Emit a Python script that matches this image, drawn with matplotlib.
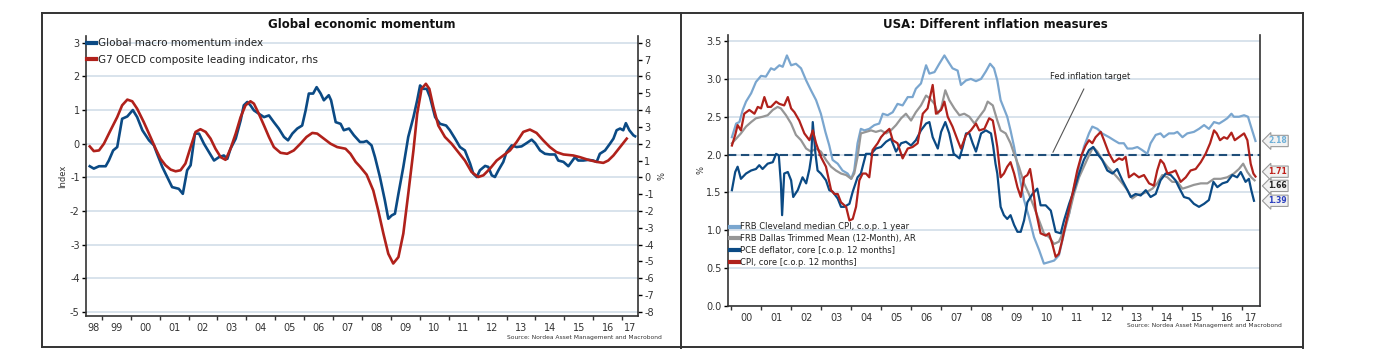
import matplotlib
matplotlib.use("Agg")
import matplotlib.pyplot as plt
from matplotlib.lines import Line2D

plt.rcParams['font.family'] = 'DejaVu Sans'
plt.rcParams['axes.unicode_minus'] = False

# ---------------- left panel: Global economic momentum ----------------
mom_dates = [1998.58, 1998.72, 1998.90, 1999.13, 1999.24, 1999.39, 1999.53, 1999.70, 1999.88, 2000.07,
             2000.22, 2000.40, 2000.63, 2000.80, 2000.91, 2001.09, 2001.26, 2001.43, 2001.66, 2001.80,
             2001.95, 2002.07, 2002.22, 2002.36, 2002.53, 2002.67, 2002.88, 2003.05, 2003.22, 2003.34,
             2003.45, 2003.63, 2003.80, 2003.91, 2004.03, 2004.14, 2004.26, 2004.43, 2004.61, 2004.78,
             2004.95, 2005.12, 2005.30, 2005.44, 2005.59, 2005.76, 2005.93, 2006.05, 2006.16, 2006.31,
             2006.43, 2006.57, 2006.68, 2006.85, 2006.93, 2007.09, 2007.26, 2007.37, 2007.55, 2007.72,
             2007.93, 2008.05, 2008.16, 2008.33, 2008.45, 2008.62, 2008.79, 2008.91, 2009.03, 2009.14,
             2009.26, 2009.43, 2009.60, 2009.78, 2009.91, 2010.01, 2010.12, 2010.24, 2010.35, 2010.53,
             2010.70, 2010.91, 2011.04, 2011.22, 2011.39, 2011.56, 2011.74, 2011.85, 2011.97, 2012.08,
             2012.26, 2012.37, 2012.49, 2012.60, 2012.72, 2012.89, 2013.00, 2013.18, 2013.35, 2013.52,
             2013.70, 2013.87, 2013.99, 2014.16, 2014.33, 2014.50, 2014.68, 2014.79, 2014.97, 2015.14,
             2015.25, 2015.37, 2015.48, 2015.66, 2015.83, 2016.00, 2016.12, 2016.23, 2016.41, 2016.58,
             2016.70, 2016.81, 2016.93, 2017.04, 2017.13, 2017.25, 2017.39, 2017.45]
mom_vals = [-0.67, -0.74, -0.67, -0.67, -0.50, -0.20, -0.10, 0.74, 0.81, 1.00,
            0.79, 0.40, 0.10, -0.05, -0.30, -0.69, -0.99, -1.29, -1.34, -1.49,
            -0.79, -0.64, 0.30, 0.30, 0.00, -0.20, -0.50, -0.40, -0.35, -0.45,
            -0.15, 0.15, 0.69, 1.14, 1.24, 1.14, 0.99, 0.89, 0.79, 0.84,
            0.64, 0.45, 0.20, 0.10, 0.30, 0.45, 0.54, 0.99, 1.49, 1.49,
            1.68, 1.49, 1.29, 1.44, 1.29, 0.64, 0.59, 0.40, 0.45, 0.25,
            0.05, 0.05, 0.08, -0.05, -0.40, -0.99, -1.68, -2.23, -2.13, -2.08,
            -1.49, -0.69, 0.20, 0.79, 1.29, 1.73, 1.63, 1.63, 1.39, 0.79,
            0.59, 0.54, 0.40, 0.15, -0.10, -0.20, -0.59, -0.89, -0.99, -0.79,
            -0.66, -0.69, -0.94, -0.99, -0.79, -0.54, -0.25, -0.05, -0.10, -0.08,
            0.02, 0.12, 0.02, -0.20, -0.30, -0.32, -0.32, -0.50, -0.54, -0.67,
            -0.54, -0.40, -0.50, -0.50, -0.48, -0.50, -0.54, -0.30, -0.20, 0.00,
            0.15, 0.40, 0.45, 0.40, 0.61, 0.40, 0.25, 0.22]

cli_dates = [1998.58, 1998.72, 1998.90, 1999.07, 1999.30, 1999.53, 1999.70, 1999.88, 2000.05, 2000.22,
             2000.45, 2000.68, 2000.86, 2001.03, 2001.20, 2001.38, 2001.55, 2001.72, 2001.89, 2002.07,
             2002.24, 2002.41, 2002.59, 2002.76, 2002.93, 2003.11, 2003.28, 2003.45, 2003.63, 2003.80,
             2003.97, 2004.14, 2004.26, 2004.43, 2004.61, 2004.78, 2004.95, 2005.18, 2005.41, 2005.64,
             2005.87, 2006.08, 2006.28, 2006.45, 2006.68, 2006.91, 2007.14, 2007.43, 2007.60, 2007.78,
             2007.93, 2008.16, 2008.39, 2008.56, 2008.74, 2008.91, 2009.08, 2009.26, 2009.43, 2009.60,
             2009.78, 2009.91, 2010.06, 2010.21, 2010.33, 2010.47, 2010.64, 2010.87, 2011.10, 2011.33,
             2011.56, 2011.79, 2012.02, 2012.20, 2012.43, 2012.66, 2012.89, 2013.12, 2013.35, 2013.58,
             2013.81, 2014.04, 2014.27, 2014.50, 2014.73, 2014.97, 2015.31, 2015.54, 2015.83, 2016.12,
             2016.35, 2016.52, 2016.70, 2016.93, 2017.16]
cli_vals = [1.84, 1.56, 1.60, 2.00, 2.80, 3.58, 4.28, 4.62, 4.52, 4.08,
            3.28, 2.40, 1.70, 1.10, 0.72, 0.46, 0.36, 0.42, 0.82, 1.80,
            2.70, 2.86, 2.70, 2.30, 1.70, 1.20, 1.04, 1.70, 2.60, 3.58,
            4.28, 4.52, 4.38, 3.78, 3.08, 2.40, 1.80, 1.46, 1.40, 1.60,
            2.00, 2.40, 2.64, 2.60, 2.30, 2.00, 1.80, 1.70, 1.40, 0.92,
            0.64, 0.16, -0.78, -1.96, -3.34, -4.54, -5.12, -4.74, -3.34, -0.98,
            1.60, 3.78, 5.26, 5.56, 5.26, 4.18, 3.08, 2.40, 2.00, 1.50,
            1.00, 0.32, 0.02, 0.12, 0.52, 1.00, 1.30, 1.60, 2.10, 2.70,
            2.84, 2.64, 2.20, 1.80, 1.50, 1.36, 1.30, 1.20, 1.04, 0.92,
            0.86, 1.00, 1.30, 1.80, 2.30]

left_years = list(range(1998, 2018))
left_yticks = list(range(-5, 4))
rhs_yticks = list(range(-8, 9))

# ---------------- right panel: USA inflation measures ----------------
clev_dates = [2000.03, 2000.17, 2000.28, 2000.39, 2000.50, 2000.67, 2000.83, 2001.00, 2001.16, 2001.33,
              2001.44, 2001.61, 2001.72, 2001.86, 2002.00, 2002.16, 2002.33, 2002.50, 2002.66, 2002.83,
              2002.99, 2003.14, 2003.27, 2003.38, 2003.55, 2003.71, 2003.88, 2004.00, 2004.10, 2004.21,
              2004.32, 2004.44, 2004.60, 2004.77, 2004.93, 2005.05, 2005.21, 2005.38, 2005.54, 2005.71,
              2005.88, 2006.04, 2006.15, 2006.32, 2006.49, 2006.60, 2006.77, 2006.93, 2007.10, 2007.24,
              2007.37, 2007.54, 2007.65, 2007.82, 2007.98, 2008.15, 2008.32, 2008.48, 2008.62, 2008.75,
              2008.86, 2008.97, 2009.08, 2009.19, 2009.30, 2009.42, 2009.58, 2009.75, 2009.91, 2010.08,
              2010.25, 2010.41, 2010.58, 2010.75, 2010.91, 2011.08, 2011.25, 2011.41, 2011.58, 2011.74,
              2011.91, 2012.02, 2012.19, 2012.35, 2012.58, 2012.74, 2012.91, 2013.07, 2013.19, 2013.35,
              2013.52, 2013.68, 2013.85, 2013.96, 2014.13, 2014.29, 2014.40, 2014.57, 2014.74, 2014.85,
              2015.02, 2015.18, 2015.40, 2015.57, 2015.74, 2015.90, 2016.07, 2016.24, 2016.40, 2016.51,
              2016.65, 2016.73, 2016.90, 2017.07, 2017.20, 2017.34, 2017.45]
clev_vals = [2.23, 2.41, 2.43, 2.59, 2.70, 2.81, 2.96, 3.04, 3.03, 3.14,
             3.12, 3.18, 3.16, 3.31, 3.18, 3.20, 3.14, 2.98, 2.85, 2.72,
             2.54, 2.30, 2.12, 1.93, 1.88, 1.79, 1.75, 1.68, 1.79, 2.15,
             2.34, 2.32, 2.34, 2.39, 2.41, 2.54, 2.52, 2.56, 2.67, 2.65,
             2.76, 2.76, 2.87, 2.94, 3.18, 3.07, 3.09, 3.20, 3.31, 3.22,
             3.14, 3.11, 2.92, 2.98, 3.00, 2.97, 3.00, 3.10, 3.20, 3.14,
             2.98, 2.72, 2.61, 2.50, 2.32, 2.10, 1.75, 1.40, 1.18, 0.91,
             0.74, 0.56, 0.58, 0.60, 0.67, 0.96, 1.22, 1.57, 1.84, 2.10,
             2.28, 2.37, 2.34, 2.28, 2.23, 2.19, 2.15, 2.15, 2.08, 2.08,
             2.10, 2.06, 2.01, 2.15, 2.26, 2.28, 2.23, 2.28, 2.28, 2.30,
             2.23, 2.28, 2.30, 2.34, 2.39, 2.34, 2.43, 2.41, 2.45, 2.48,
             2.54, 2.50, 2.50, 2.52, 2.50, 2.32, 2.18]

dallas_dates = [2000.03, 2000.17, 2000.33, 2000.50, 2000.67, 2000.83, 2001.05, 2001.22, 2001.39, 2001.55,
                2001.66, 2001.83, 2002.00, 2002.16, 2002.33, 2002.50, 2002.66, 2002.83, 2002.99, 2003.16,
                2003.33, 2003.49, 2003.66, 2003.83, 2004.00, 2004.10, 2004.21, 2004.32, 2004.49, 2004.66,
                2004.82, 2004.99, 2005.16, 2005.32, 2005.49, 2005.66, 2005.82, 2005.99, 2006.15, 2006.32,
                2006.49, 2006.62, 2006.77, 2006.88, 2006.99, 2007.13, 2007.26, 2007.43, 2007.60, 2007.76,
                2007.93, 2008.10, 2008.26, 2008.43, 2008.54, 2008.71, 2008.86, 2008.97, 2009.14, 2009.30,
                2009.42, 2009.58, 2009.75, 2009.91, 2010.08, 2010.25, 2010.41, 2010.58, 2010.75, 2010.91,
                2011.08, 2011.25, 2011.41, 2011.58, 2011.74, 2011.91, 2012.05, 2012.19, 2012.35, 2012.52,
                2012.69, 2012.85, 2013.02, 2013.19, 2013.35, 2013.52, 2013.68, 2013.85, 2014.02, 2014.18,
                2014.35, 2014.52, 2014.68, 2014.85, 2015.02, 2015.18, 2015.40, 2015.63, 2015.85, 2016.07,
                2016.29, 2016.51, 2016.73, 2016.90, 2017.04, 2017.18, 2017.31, 2017.42]
dallas_vals = [2.15, 2.21, 2.28, 2.37, 2.43, 2.48, 2.50, 2.52, 2.59, 2.63,
               2.61, 2.52, 2.41, 2.26, 2.19, 2.08, 2.04, 2.08, 2.04, 1.93,
               1.84, 1.79, 1.75, 1.73, 1.68, 1.75, 1.97, 2.28, 2.30, 2.32,
               2.30, 2.32, 2.28, 2.32, 2.39, 2.48, 2.54, 2.45, 2.56, 2.65,
               2.78, 2.74, 2.67, 2.54, 2.61, 2.85, 2.72, 2.61, 2.52, 2.54,
               2.50, 2.41, 2.50, 2.59, 2.70, 2.65, 2.45, 2.32, 2.28, 2.15,
               2.01, 1.84, 1.62, 1.48, 1.31, 1.13, 0.96, 0.91, 0.82, 0.85,
               1.00, 1.22, 1.48, 1.70, 1.84, 1.99, 2.10, 2.04, 1.93, 1.84,
               1.77, 1.70, 1.62, 1.53, 1.42, 1.47, 1.48, 1.51, 1.55, 1.62,
               1.73, 1.70, 1.64, 1.64, 1.55, 1.57, 1.60, 1.62, 1.62, 1.68,
               1.68, 1.70, 1.75, 1.81, 1.88, 1.77, 1.70, 1.66]

pce_dates = [2000.03, 2000.14, 2000.22, 2000.33, 2000.50, 2000.67, 2000.83, 2000.94, 2001.05, 2001.22,
             2001.39, 2001.50, 2001.59, 2001.66, 2001.70, 2001.77, 2001.89, 2002.00, 2002.07, 2002.22,
             2002.38, 2002.50, 2002.61, 2002.67, 2002.72, 2002.81, 2002.88, 2002.99, 2003.16, 2003.27,
             2003.38, 2003.55, 2003.66, 2003.77, 2003.94, 2004.05, 2004.21, 2004.32, 2004.49, 2004.66,
             2004.82, 2004.99, 2005.16, 2005.32, 2005.49, 2005.66, 2005.82, 2005.99, 2006.15, 2006.32,
             2006.49, 2006.60, 2006.71, 2006.88, 2006.99, 2007.13, 2007.26, 2007.41, 2007.60, 2007.71,
             2007.82, 2007.93, 2008.04, 2008.15, 2008.32, 2008.48, 2008.65, 2008.72, 2008.80, 2008.86,
             2008.97, 2009.08, 2009.19, 2009.30, 2009.42, 2009.53, 2009.64, 2009.75, 2009.86, 2010.03,
             2010.19, 2010.30, 2010.47, 2010.64, 2010.80, 2010.97, 2011.08, 2011.25, 2011.41, 2011.58,
             2011.74, 2011.91, 2012.05, 2012.19, 2012.35, 2012.52, 2012.69, 2012.85, 2013.02, 2013.19,
             2013.30, 2013.46, 2013.63, 2013.80, 2013.96, 2014.13, 2014.29, 2014.46, 2014.63, 2014.79,
             2014.90, 2015.07, 2015.24, 2015.40, 2015.57, 2015.74, 2015.90, 2016.05, 2016.18, 2016.35,
             2016.51, 2016.68, 2016.84, 2016.96, 2017.12, 2017.23, 2017.31, 2017.40]
pce_vals = [1.53, 1.77, 1.84, 1.68, 1.75, 1.79, 1.81, 1.86, 1.81, 1.88,
            1.90, 2.01, 1.99, 1.62, 1.20, 1.75, 1.77, 1.66, 1.44, 1.53,
            1.70, 1.62, 1.81, 1.97, 2.43, 2.01, 1.79, 1.75, 1.66, 1.53,
            1.51, 1.42, 1.31, 1.31, 1.35, 1.51, 1.70, 1.75, 2.01, 2.01,
            2.08, 2.10, 2.17, 2.21, 2.04, 2.15, 2.17, 2.12, 2.19, 2.32,
            2.41, 2.43, 2.23, 2.08, 2.30, 2.43, 2.28, 2.01, 1.95, 2.10,
            2.28, 2.28, 2.15, 2.04, 2.28, 2.32, 2.28, 2.12, 1.88, 1.75,
            1.31, 1.20, 1.15, 1.20, 1.07, 0.98, 0.98, 1.13, 1.37, 1.48,
            1.55, 1.33, 1.33, 1.26, 0.98, 0.96, 1.13, 1.35, 1.53, 1.75,
            1.93, 2.06, 2.10, 2.01, 1.93, 1.79, 1.75, 1.81, 1.66, 1.53,
            1.44, 1.48, 1.46, 1.53, 1.44, 1.48, 1.66, 1.75, 1.73, 1.66,
            1.57, 1.44, 1.42, 1.35, 1.31, 1.35, 1.40, 1.64, 1.57, 1.62,
            1.64, 1.73, 1.70, 1.77, 1.64, 1.68, 1.53, 1.39]

cpi_dates = [2000.03, 2000.14, 2000.22, 2000.33, 2000.44, 2000.61, 2000.78, 2000.89, 2001.00, 2001.11,
             2001.22, 2001.33, 2001.50, 2001.61, 2001.77, 2001.89, 2002.00, 2002.11, 2002.27, 2002.44,
             2002.61, 2002.72, 2002.83, 2002.99, 2003.16, 2003.33, 2003.44, 2003.55, 2003.66, 2003.83,
             2003.94, 2004.05, 2004.16, 2004.27, 2004.38, 2004.49, 2004.60, 2004.71, 2004.88, 2004.99,
             2005.10, 2005.27, 2005.38, 2005.54, 2005.71, 2005.88, 2006.04, 2006.21, 2006.38, 2006.54,
             2006.71, 2006.82, 2006.99, 2007.10, 2007.21, 2007.37, 2007.54, 2007.65, 2007.82, 2007.98,
             2008.15, 2008.26, 2008.43, 2008.59, 2008.71, 2008.80, 2008.86, 2008.97, 2009.08, 2009.19,
             2009.30, 2009.42, 2009.53, 2009.64, 2009.75, 2009.86, 2009.95, 2010.03, 2010.14, 2010.30,
             2010.47, 2010.58, 2010.69, 2010.80, 2010.91, 2011.02, 2011.19, 2011.36, 2011.52, 2011.66,
             2011.80, 2011.91, 2012.02, 2012.13, 2012.30, 2012.41, 2012.58, 2012.74, 2012.91, 2013.02,
             2013.13, 2013.24, 2013.41, 2013.57, 2013.74, 2013.91, 2014.07, 2014.18, 2014.29, 2014.40,
             2014.52, 2014.68, 2014.79, 2014.96, 2015.13, 2015.29, 2015.46, 2015.63, 2015.79, 2015.94,
             2016.07, 2016.16, 2016.27, 2016.40, 2016.51, 2016.65, 2016.76, 2016.90, 2017.07, 2017.18,
             2017.29, 2017.38, 2017.45]
cpi_vals = [2.12, 2.26, 2.39, 2.32, 2.54, 2.59, 2.54, 2.63, 2.61, 2.76,
            2.63, 2.63, 2.70, 2.67, 2.65, 2.76, 2.61, 2.56, 2.45, 2.28,
            2.19, 2.32, 2.15, 1.97, 1.84, 1.53, 1.48, 1.48, 1.37, 1.31,
            1.13, 1.15, 1.31, 1.66, 1.75, 1.75, 1.70, 2.06, 2.15, 2.23,
            2.28, 2.34, 2.19, 2.15, 1.95, 2.08, 2.10, 2.15, 2.54, 2.61,
            2.92, 2.54, 2.59, 2.70, 2.50, 2.37, 2.19, 2.08, 2.26, 2.32,
            2.41, 2.32, 2.34, 2.48, 2.45, 2.25, 2.10, 1.70, 1.75, 1.84,
            1.90, 1.75, 1.57, 1.44, 1.70, 1.73, 1.81, 1.62, 1.26, 0.96,
            0.93, 0.96, 0.82, 0.65, 0.69, 0.87, 1.18, 1.48, 1.79, 1.99,
            2.12, 2.19, 2.15, 2.23, 2.30, 2.19, 2.01, 1.90, 1.95, 1.93,
            1.97, 1.70, 1.75, 1.70, 1.73, 1.62, 1.59, 1.79, 1.93, 1.88,
            1.75, 1.77, 1.79, 1.64, 1.70, 1.79, 1.81, 1.90, 2.01, 2.15,
            2.32, 2.28, 2.19, 2.23, 2.21, 2.29, 2.19, 2.23, 2.28, 2.19,
            1.88, 1.75, 1.71]

fed_target = 2.0
right_years = list(range(2000, 2018))
infl_yticks = [0.0, 0.5, 1.0, 1.5, 2.0, 2.5, 3.0, 3.5]

BLUE = '#0b4a84'
RED = '#b0211b'
LIGHT = '#7aa6cf'
GREY = '#969696'
GRID = '#d6e1ea'
SPINE = '#333333'

W, H = 1400, 363
fig = plt.figure(figsize=(14, 3.63), dpi=100)


def fx(px):
    return px / W


def fy(py):
    return 1 - py / H


def year_labels(ax, years, xmin, xmax):
    # major ticks at year starts, labels centred in the visible part of each year
    ax.set_xticks([y for y in years if xmin < y < xmax])
    ax.set_xticklabels([])
    pos = [(max(y, xmin) + min(y + 1, xmax)) / 2 for y in years]
    ax.set_xticks(pos, minor=True)
    ax.set_xticklabels(['%02d' % (y % 100) for y in years], minor=True)
    ax.tick_params(axis='x', which='major', length=3, width=1, color=SPINE, direction='out')
    ax.tick_params(axis='x', which='minor', length=0, labelsize=7, pad=5, labelcolor='#333333')


# ---- left panel ----
lx0, lx1 = 1998.45, 2017.55
ax1 = fig.add_axes([fx(86), fy(316), fx(638) - fx(86), fy(36) - fy(316)])
ax1.set_xlim(lx0, lx1)
ax1.set_ylim(-5.12, 3.2)
ax1.set_yticks(left_yticks)
ax1.grid(axis='y', color=GRID, lw=1.3)
ax1.set_axisbelow(True)
for s in ['top', 'right']:
    ax1.spines[s].set_visible(False)
for s in ['left', 'bottom']:
    ax1.spines[s].set_color(SPINE)
    ax1.spines[s].set_linewidth(1.2)
ax1.tick_params(axis='y', length=3, width=1, labelsize=7, pad=1.5, labelcolor='#333333')
year_labels(ax1, left_years, lx0, lx1)
ax1.set_ylabel('Index', fontsize=6, color='#333333')
ax1.yaxis.set_label_coords(-0.034, 0.5)

ax1r = ax1.twinx()
ax1r.set_ylim(-8.24, 8.4)
ax1r.set_yticks(rhs_yticks)
for s in ['top', 'left', 'bottom']:
    ax1r.spines[s].set_visible(False)
ax1r.spines['right'].set_color(SPINE)
ax1r.spines['right'].set_linewidth(1.2)
ax1r.tick_params(axis='y', length=3, width=1, labelsize=7, pad=1.5, labelcolor='#333333')
ax1r.set_ylabel('%', fontsize=6, rotation=90, color='#333333')
ax1r.yaxis.set_label_coords(1.036, 0.5)

l1, = ax1.plot(mom_dates, mom_vals, color=BLUE, lw=1.9, solid_joinstyle='round')
l2, = ax1r.plot(cli_dates, cli_vals, color=RED, lw=1.9, solid_joinstyle='round')
ax1r.legend([Line2D([], [], color=BLUE, lw=3), Line2D([], [], color=RED, lw=3)],
            ['Global macro momentum index', 'G7 OECD composite leading indicator, rhs'],
            loc='upper left', bbox_to_anchor=(0.0, 0.995), frameon=False, fontsize=7.5,
            handlelength=0.9, handletextpad=0.15, labelspacing=0.62, borderaxespad=0,
            borderpad=0.1, labelcolor='#222222')

fig.text(fx(362), fy(25), 'Global economic momentum', ha='center', va='center',
         fontsize=8.5, fontweight='bold', color='#111111')
fig.text(fx(662), fy(337), 'Source: Nordea Asset Management and Macrobond', ha='right',
         va='center', fontsize=4.3, color='#333333')

# ---- right panel ----
rx0, rx1 = 1999.9, 2017.6
ax2 = fig.add_axes([fx(728), fy(306), fx(1260) - fx(728), fy(35) - fy(306)])
ax2.set_xlim(rx0, rx1)
ax2.set_ylim(0, 3.58)
ax2.set_yticks(infl_yticks)
ax2.set_yticklabels(['%.1f' % v for v in infl_yticks])
ax2.grid(axis='y', color=GRID, lw=1.3)
ax2.set_axisbelow(True)
ax2.spines['top'].set_visible(False)
for s in ['left', 'bottom', 'right']:
    ax2.spines[s].set_color(SPINE)
    ax2.spines[s].set_linewidth(1.2)
ax2.tick_params(axis='y', length=3, width=1, labelsize=7, pad=1.5, labelcolor='#333333')
year_labels(ax2, right_years, rx0, rx1)
ax2.set_ylabel('%', fontsize=6, color='#333333')
ax2.yaxis.set_label_coords(-0.043, 0.5)

ax2.axhline(fed_target, color='#1f4e79', lw=1.5, ls=(0, (4, 2.2)), zorder=2)

series = [
    (clev_dates, clev_vals, LIGHT, 'FRB Cleveland median CPI, c.o.p. 1 year', '#6fb0d8', 0),
    (dallas_dates, dallas_vals, GREY, 'FRB Dallas Trimmed Mean (12-Month), AR', '#222222', -4),
    (pce_dates, pce_vals, BLUE, 'PCE deflator, core [c.o.p. 12 months]', '#2b3fbf', 0),
    (cpi_dates, cpi_vals, RED, 'CPI, core [c.o.p. 12 months]', '#c0201a', 3.5),
]
for d, v, c, lab, tc, dy in series:
    ax2.plot(d, v, color=c, lw=1.6, solid_joinstyle='round', zorder=3)
for d, v, c, lab, tc, dy in series:
    ax2.annotate('%.2f' % v[-1], xy=(1.0, v[-1]), xycoords=ax2.get_yaxis_transform(),
                 xytext=(6, dy), textcoords='offset points', fontsize=5.5, color=tc,
                 fontweight='bold', ha='left', va='center', annotation_clip=False,
                 bbox=dict(boxstyle='larrow,pad=0.15', fc='#f2f2f2', ec='#9a9a9a', lw=0.8))

ax2.legend([Line2D([], [], color=s[2], lw=3) for s in series], [s[3] for s in series],
           loc='lower left', bbox_to_anchor=(0.003, 0.14), frameon=False, fontsize=6,
           handlelength=1.0, handletextpad=0.1, labelspacing=0.35, borderaxespad=0,
           borderpad=0.1, labelcolor='#222222')

ax2.annotate('Fed inflation target', xy=(2010.71, 2.03), xytext=(2011.94, 3.03),
             ha='center', va='center', fontsize=6, color='#222222',
             arrowprops=dict(arrowstyle='-', color='#555555', lw=0.8, shrinkA=4, shrinkB=0))

fig.text(fx(995), fy(25), 'USA: Different inflation measures', ha='center', va='center',
         fontsize=8.5, fontweight='bold', color='#111111')
fig.text(fx(1282), fy(326), 'Source: Nordea Asset Management and Macrobond', ha='right',
         va='center', fontsize=4.3, color='#333333')

# ---- outer frames ----
frame = dict(transform=fig.transFigure, color='#333333', lw=1.4)
fig.add_artist(Line2D([fx(42), fx(1303)], [fy(13), fy(13)], **frame))
fig.add_artist(Line2D([fx(42), fx(1303)], [fy(347), fy(347)], **frame))
fig.add_artist(Line2D([fx(42), fx(42)], [fy(13), fy(347)], **frame))
fig.add_artist(Line2D([fx(681), fx(681)], [fy(13), fy(348)], **frame))
fig.add_artist(Line2D([fx(1303), fx(1303)], [fy(13), fy(348)], **frame))

fig.savefig('out.png', dpi=100)
